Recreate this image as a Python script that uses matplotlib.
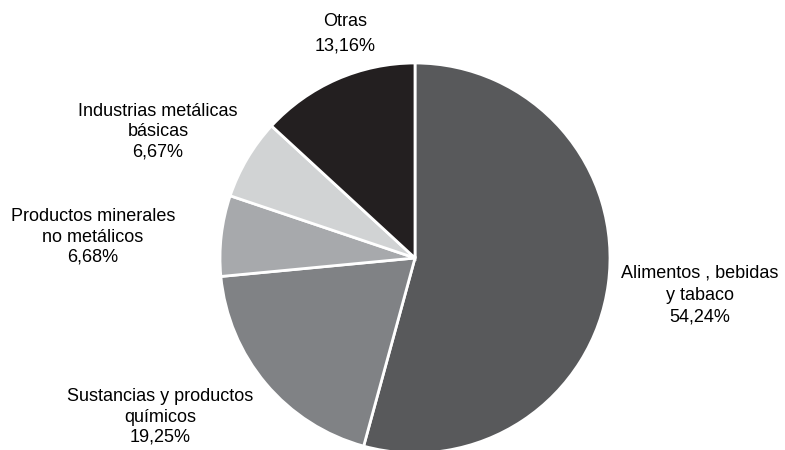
import matplotlib.pyplot as plt

# -----------------------------
# Data
# -----------------------------
sectors = ["Alimentos , bebidas\ny tabaco", "Sustancias y productos\nquímicos",
           "Productos minerales\nno metálicos", "Industrias metálicas\nbásicas", "Otras"]
shares = [54.24, 19.25, 6.68, 6.67, 13.16]
pct_text = ["54,24%", "19,25%", "6,68%", "6,67%", "13,16%"]
colors = ["#58595b", "#808285", "#a7a9ac", "#d1d3d4", "#231f20"]

plt.rcParams['font.family'] = ['Liberation Sans', 'DejaVu Sans']

# -----------------------------
# Figure
# -----------------------------
W, H = 785, 450
cx, cy, r = 415, 258, 195   # pie centre / radius in pixels

fig = plt.figure(figsize=(W / 100, H / 100), dpi=100)
ax = fig.add_axes([0, 0, 1, 1])
ax.pie(shares, colors=colors, startangle=90, counterclock=False, radius=1,
       wedgeprops=dict(edgecolor="white", linewidth=2))
ax.set_xlim((0 - cx) / r, (W - cx) / r)
ax.set_ylim((cy - H) / r, cy / r)
ax.set_aspect("auto")
ax.axis("off")


def px(x, y):
    # pixel position (from top-left) -> data coords
    return (x - cx) / r, (cy - y) / r


# label centres (pixel) and line spacing, one per sector
label_pos = [(700, 295), (160, 417), (93, 237), (158, 132), (345, 34)]
spacing = [1.4, 1.25, 1.25, 1.25, 1.6]

for i, (name, pct) in enumerate(zip(sectors, pct_text)):
    x, y = px(*label_pos[i])
    ax.text(x, y, name + "\n" + pct, ha="center", va="center", fontsize=13,
            linespacing=spacing[i])

fig.savefig("out.png", dpi=100)
